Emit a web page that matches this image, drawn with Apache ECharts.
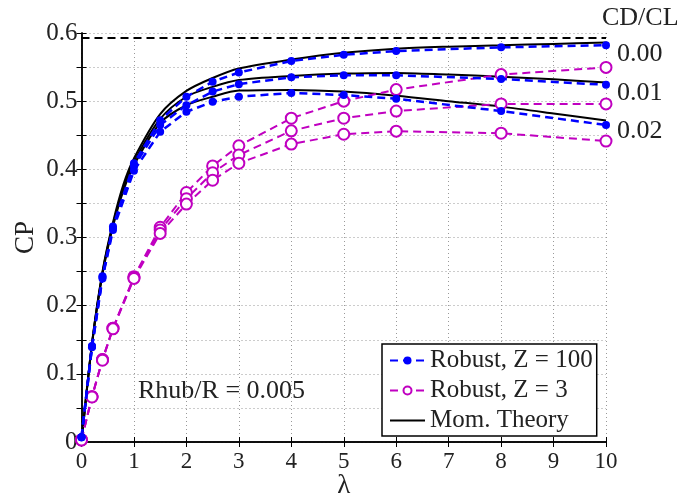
<!DOCTYPE html>
<html>
<head>
<meta charset="utf-8">
<script src="https://cdn.jsdelivr.net/npm/echarts@6/dist/echarts.min.js"></script>
<style>
  html, body { margin: 0; padding: 0; background: #fff; }
  #chart { width: 690px; height: 497px; }
</style>
</head>
<body>
<div id="chart"></div>
<script>
// Tip speed ratios for the robust solver runs
const lambda = [0, 0.2, 0.4, 0.6, 1, 1.5, 2, 2.5, 3, 4, 5, 6, 8, 10];

// Robust, Z = 100 (CD/CL = 0.00, 0.01, 0.02)
const cpZ100_000 = [0.007, 0.141, 0.243, 0.316, 0.409, 0.472, 0.5065, 0.5285, 0.542, 0.559, 0.568, 0.5735, 0.579, 0.582];
const cpZ100_001 = [0.007, 0.140, 0.242, 0.314, 0.404, 0.465, 0.494, 0.514, 0.525, 0.535, 0.538, 0.538, 0.5325, 0.524];
const cpZ100_002 = [0.007, 0.139, 0.240, 0.311, 0.398, 0.455, 0.4845, 0.499, 0.5065, 0.512, 0.509, 0.5035, 0.4855, 0.465];

// Robust, Z = 3 (CD/CL = 0.00, 0.01, 0.02)
const cpZ3_000 = [0.003, 0.0665, 0.121, 0.167, 0.2425, 0.315, 0.366, 0.405, 0.4345, 0.475, 0.500, 0.517, 0.539, 0.5495];
const cpZ3_001 = [0.003, 0.0665, 0.121, 0.167, 0.241, 0.311, 0.357, 0.395, 0.421, 0.4565, 0.475, 0.4855, 0.496, 0.496];
const cpZ3_002 = [0.003, 0.066, 0.120, 0.166, 0.240, 0.306, 0.349, 0.384, 0.409, 0.437, 0.4515, 0.456, 0.453, 0.4415];

// Momentum theory curves
const lambdaMT = [0, 0.2, 0.4, 0.6, 0.8, 1, 1.5, 2, 2.5, 3, 4, 5, 6, 7, 8, 9, 10];
const cpMT_000 = [0, 0.145, 0.250, 0.322, 0.378, 0.416, 0.481, 0.515, 0.534, 0.548, 0.561, 0.571, 0.577, 0.580, 0.582, 0.584, 0.586];
const cpMT_001 = [0, 0.144, 0.248, 0.319, 0.373, 0.411, 0.474, 0.5065, 0.521, 0.531, 0.537, 0.5405, 0.5415, 0.539, 0.536, 0.532, 0.5275];
const cpMT_002 = [0, 0.143, 0.246, 0.316, 0.369, 0.406, 0.468, 0.494, 0.5065, 0.5155, 0.5165, 0.514, 0.508, 0.500, 0.492, 0.482, 0.4715];

// Betz limit 16/27
const betz = 16 / 27;
const xRange = [0, 10];

const xTicks = [0, 1, 2, 3, 4, 5, 6, 7, 8, 9, 10];
const yTickLabels = ['0', '0.1', '0.2', '0.3', '0.4', '0.5', '0.6'];
const ddLabels = ['0.00', '0.01', '0.02'];

const FONT = '"Liberation Serif", "DejaVu Serif", serif';
const BLUE = '#0000ff';
const MAGENTA = '#c000c0';

const pair = (xs, ys) => xs.map((x, i) => [x, ys[i]]);

function robustBlue(ys) {
  return {
    name: 'Robust, Z = 100', type: 'line', data: pair(lambda, ys),
    symbol: 'circle', symbolSize: 8,
    itemStyle: { color: BLUE },
    lineStyle: { color: BLUE, width: 2.5, type: [8, 5] },
    z: 4
  };
}
function robustMag(ys) {
  return {
    name: 'Robust, Z = 3', type: 'line', data: pair(lambda, ys),
    symbol: 'emptyCircle', symbolSize: 11,
    itemStyle: { color: MAGENTA, borderColor: MAGENTA, borderWidth: 1.8 },
    lineStyle: { color: MAGENTA, width: 2, type: [8, 5] },
    z: 3
  };
}
function momentum(ys) {
  return {
    name: 'Mom. Theory', type: 'line', data: pair(lambdaMT, ys),
    symbol: 'none', smooth: 0.3,
    itemStyle: { color: '#000' },
    lineStyle: { color: '#000', width: 2 },
    z: 2
  };
}

const chart = echarts.init(document.getElementById('chart'), null, { renderer: 'canvas' });

const axisCommon = {
  type: 'value',
  nameMoveOverlap: false,
  axisLine: { show: true, lineStyle: { color: '#000', width: 1.5 } },
  axisTick: { show: true, inside: true, length: 5, lineStyle: { color: '#000', width: 1 } }
};
const gridLine = { show: true, lineStyle: { color: '#999', width: 1, type: [1, 3] } };

chart.setOption({
  animation: false,
  backgroundColor: '#fff',
  grid: { left: 81.5, right: 84, top: 33, bottom: 55, containLabel: false, outerBoundsMode: 'none' },
  xAxis: [
    Object.assign({}, axisCommon, {
      min: xRange[0], max: xRange[1], interval: 1, position: 'bottom',
      name: 'λ', nameLocation: 'middle', nameGap: 30,
      nameTextStyle: { fontFamily: FONT, fontSize: 27, color: '#222' },
      axisLabel: {
        fontFamily: FONT, fontSize: 23, color: '#222', margin: 8,
        formatter: v => (xTicks.indexOf(Math.round(v)) >= 0 ? String(Math.round(v)) : '')
      },
      splitLine: gridLine
    }),
    Object.assign({}, axisCommon, {
      min: xRange[0], max: xRange[1], interval: 1, position: 'top',
      axisLabel: { show: false }, splitLine: { show: false }
    })
  ],
  yAxis: [
    Object.assign({}, axisCommon, {
      min: 0, max: 0.6, interval: 0.05, position: 'left',
      name: 'CP', nameLocation: 'middle', nameGap: 42,
      nameTextStyle: { fontFamily: FONT, fontSize: 27, color: '#222' },
      axisLabel: {
        fontFamily: FONT, fontSize: 25, color: '#222', margin: 4,
        formatter: v => {
          const k = Math.round(v * 100);
          return k % 10 === 0 ? yTickLabels[k / 10] : '';
        }
      },
      splitLine: gridLine
    }),
    Object.assign({}, axisCommon, {
      min: 0, max: 0.6, interval: 0.05, position: 'right',
      axisLabel: { show: false }, splitLine: { show: false }
    })
  ],
  legend: {
    data: [
      'Robust, Z = 100',
      'Robust, Z = 3',
      { name: 'Mom. Theory', icon: 'path://M0,0H35V2.2H0Z' }
    ],
    orient: 'vertical', left: 382, top: 344,
    padding: [4, 4, 3, 7], itemGap: 5, itemWidth: 35, itemHeight: 10,
    backgroundColor: '#fff', borderColor: '#000', borderWidth: 1.5, borderRadius: 0,
    textStyle: { fontFamily: FONT, fontSize: 25, color: '#222', lineHeight: 25 }
  },
  series: [
    {
      name: 'Betz', type: 'line', data: pair(xRange, [betz, betz]),
      symbol: 'none', lineStyle: { color: '#000', width: 2, type: [8, 5] }, z: 1
    },
    momentum(cpMT_000), momentum(cpMT_001), momentum(cpMT_002),
    robustMag(cpZ3_000), robustMag(cpZ3_001), robustMag(cpZ3_002),
    robustBlue(cpZ100_000), robustBlue(cpZ100_001), robustBlue(cpZ100_002)
  ],
  graphic: [
    { type: 'text', left: 602, top: 5, style: { text: 'CD/CL', font: '26px ' + FONT, fill: '#222' } },
    { type: 'text', left: 617, top: 41, style: { text: ddLabels[0], font: '26px ' + FONT, fill: '#222' } },
    { type: 'text', left: 617, top: 80, style: { text: ddLabels[1], font: '26px ' + FONT, fill: '#222' } },
    { type: 'text', left: 617, top: 118, style: { text: ddLabels[2], font: '26px ' + FONT, fill: '#222' } },
    { type: 'text', left: 138, top: 378, style: { text: 'Rhub/R = 0.005', font: '26px ' + FONT, fill: '#222' } }
  ]
});
</script>
</body>
</html>
